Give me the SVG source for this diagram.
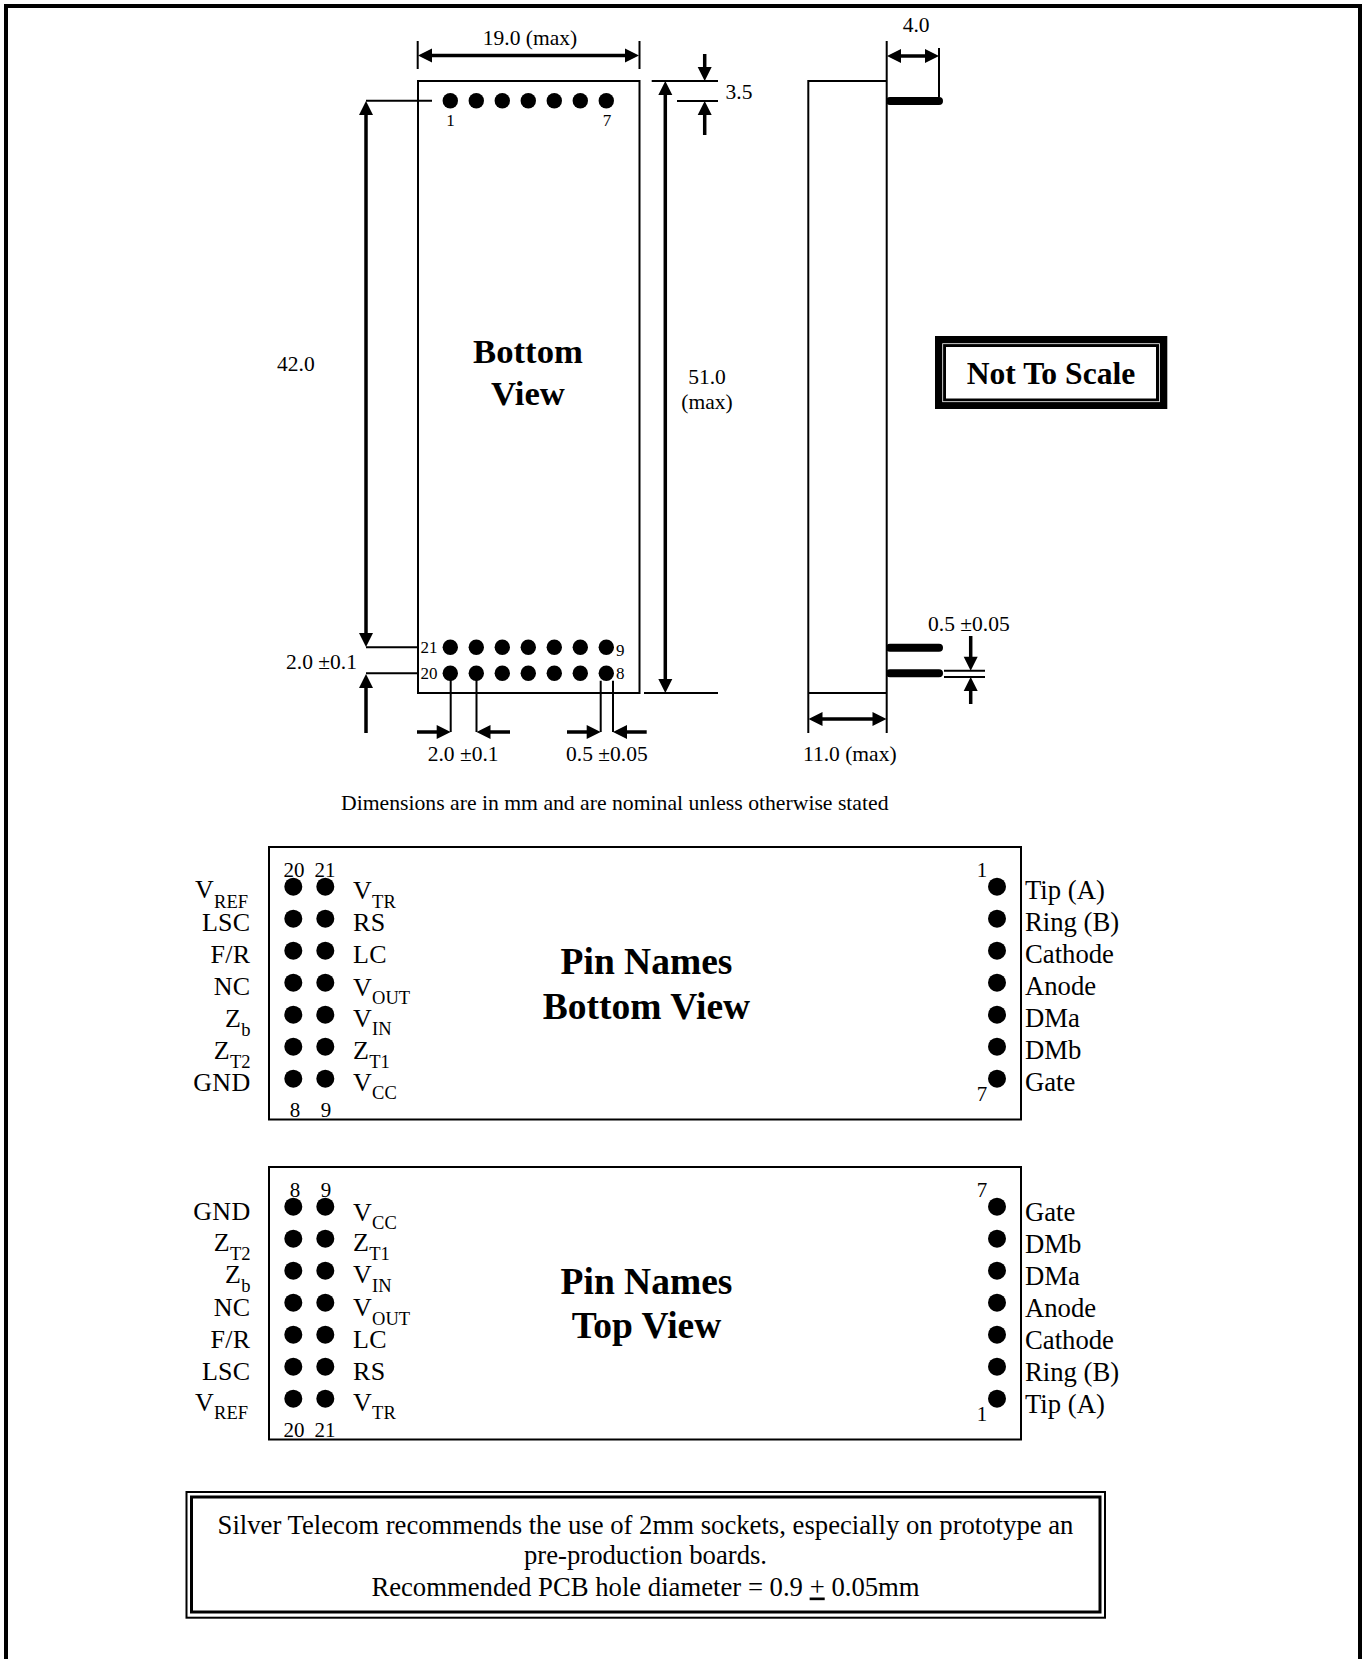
<svg xmlns="http://www.w3.org/2000/svg" width="1367" height="1659" viewBox="0 0 1367 1659">
<style>
text{font-family:"Liberation Serif","Times New Roman",serif;fill:#000}
.d{font-size:21.5px}
.s{font-size:17px}
.l{font-size:26px;letter-spacing:.3px}
.k{font-size:26.7px}
.n{font-size:21px}
.e{text-anchor:end}
.m{text-anchor:middle}
.b{font-weight:bold;text-anchor:middle}
.u{font-size:18.5px;letter-spacing:0}
.a{fill:none;stroke:#000;stroke-width:3.5}
.t{fill:none;stroke:#000;stroke-width:2}
.p{fill:none;stroke:#000;stroke-width:8;stroke-linecap:round}
.o{fill:none;stroke:#000;stroke-width:2}
.ar{marker-end:url(#h)}
.both{marker-start:url(#h);marker-end:url(#h)}
</style>
<defs>
<marker id="h" markerUnits="userSpaceOnUse" markerWidth="16" markerHeight="16" viewBox="-9 -8 16 16" refX="0" refY="0" orient="auto-start-reverse" overflow="visible"><path d="M-8,-7 L6,0 L-8,7z" fill="#000"/></marker>
<circle id="d" r="7.7" fill="#000"/>
<circle id="D" r="9" fill="#000"/>
</defs>
<rect width="1367" height="1659" fill="#fff"/>
<rect id="frame" x="6" y="6" width="1354" height="1660" fill="none" stroke="#000" stroke-width="4"/>

<g id="bottom-view">
<rect class="o" x="418" y="81" width="221.5" height="612"/>
<text class="b" style="font-size:34.7px" x="528" y="362.5">Bottom</text>
<text class="b" style="font-size:34.7px" x="528" y="404.5">View</text>
<g id="pins-top"><use href="#d" x="450.3" y="100.7"/><use href="#d" x="476.3" y="100.7"/><use href="#d" x="502.3" y="100.7"/><use href="#d" x="528.3" y="100.7"/><use href="#d" x="554.3" y="100.7"/><use href="#d" x="580.3" y="100.7"/><use href="#d" x="606.3" y="100.7"/></g>
<g id="pins-mid"><use href="#d" x="450.3" y="647.3"/><use href="#d" x="476.3" y="647.3"/><use href="#d" x="502.3" y="647.3"/><use href="#d" x="528.3" y="647.3"/><use href="#d" x="554.3" y="647.3"/><use href="#d" x="580.3" y="647.3"/><use href="#d" x="606.3" y="647.3"/></g>
<g id="pins-low"><use href="#d" x="450.3" y="673.3"/><use href="#d" x="476.3" y="673.3"/><use href="#d" x="502.3" y="673.3"/><use href="#d" x="528.3" y="673.3"/><use href="#d" x="554.3" y="673.3"/><use href="#d" x="580.3" y="673.3"/><use href="#d" x="606.3" y="673.3"/></g>
<text class="s m" x="450.5" y="126">1</text><text class="s m" x="607" y="126">7</text>
<text class="s" x="420.5" y="653">21</text><text class="s" x="420.5" y="678.5">20</text><text class="s" x="616" y="656">9</text><text class="s" x="616" y="678.5">8</text>
</g>

<g id="side-view">
<path class="t" d="M886.7,41V733M808.3,733V81H886.7M808.3,693H886.7"/>
<path class="p" d="M890,101H939M890,647.7H939M890,673.3H939"/>
</g>

<g id="connectors">
<path class="t" d="M417.7,41V69M639.5,41V69"/>
<line class="a both" x1="424" y1="55.5" x2="633" y2="55.5"/>
<path class="t" d="M432,100.7H366M417,647.3H366M417,673.3H366"/>
<line class="a both" x1="366" y1="107" x2="366" y2="641"/>
<line class="a ar" x1="366" y1="733" x2="366" y2="680"/>
<path class="t" d="M651.7,81H718M677,101H718M644,693H718"/>
<line class="a both" x1="665.3" y1="87" x2="665.3" y2="687"/>
<line class="a ar" x1="704.7" y1="54" x2="704.7" y2="75"/>
<line class="a ar" x1="704.7" y1="135" x2="704.7" y2="107"/>
<path class="t" d="M450.7,673V732M476.5,673V732M600.7,680.7V732M613,680.7V732"/>
<line class="a ar" x1="417" y1="732" x2="444.7" y2="732"/>
<line class="a ar" x1="510" y1="732" x2="482.5" y2="732"/>
<line class="a ar" x1="567" y1="732" x2="594.7" y2="732"/>
<line class="a ar" x1="646.7" y1="732" x2="619" y2="732"/>
<path class="t" d="M939,48V97"/>
<line class="a both" x1="893" y1="56" x2="933" y2="56"/>
<line class="a both" x1="814.5" y1="719" x2="880.5" y2="719"/>
<path class="t" d="M944,670.7H985M944,677H985"/>
<line class="a ar" x1="970.7" y1="636" x2="970.7" y2="664.7"/>
<line class="a ar" x1="970.7" y1="704" x2="970.7" y2="683"/>
</g>

<g id="dimensions">
<text class="d m" x="530" y="45">19.0 (max)</text>
<text class="d" x="725.5" y="99">3.5</text>
<text class="d" x="277" y="371">42.0</text>
<text class="d m" x="707" y="384">51.0</text>
<text class="d m" x="707" y="409">(max)</text>
<text class="d" x="286" y="669.3">2.0 ±0.1</text>
<text class="d" x="427.7" y="761">2.0 ±0.1</text>
<text class="d" x="566" y="761">0.5 ±0.05</text>
<text class="d" x="803" y="761">11.0 (max)</text>
<text class="d" x="928" y="631">0.5 ±0.05</text>
<text class="d" x="902.7" y="31.7">4.0</text>
<text style="font-size:21.7px" x="341" y="810">Dimensions are in mm and are nominal unless otherwise stated</text>
</g>

<g id="not-to-scale">
<rect x="935" y="336" width="232.3" height="73" fill="#000"/>
<rect x="942.7" y="343.7" width="216.7" height="58" fill="none" stroke="#fff" stroke-width=".8"/>
<rect x="946" y="347" width="210" height="51.5" fill="#fff"/>
<text class="b" style="font-size:31.6px" x="1051" y="384">Not To Scale</text>
</g>

<g id="pin-names-bottom">
<rect class="o" x="269" y="847" width="752" height="272.5"/>
<text class="b" style="font-size:37.5px" x="646.5" y="973.5">Pin Names</text>
<text class="b" style="font-size:37.5px" x="646.5" y="1018.5">Bottom View</text>
<g><use href="#D" x="293.3" y="886.7"/><use href="#D" x="325.3" y="886.7"/><use href="#D" x="997" y="886.7"/><use href="#D" x="293.3" y="918.7"/><use href="#D" x="325.3" y="918.7"/><use href="#D" x="997" y="918.7"/><use href="#D" x="293.3" y="950.7"/><use href="#D" x="325.3" y="950.7"/><use href="#D" x="997" y="950.7"/><use href="#D" x="293.3" y="982.7"/><use href="#D" x="325.3" y="982.7"/><use href="#D" x="997" y="982.7"/><use href="#D" x="293.3" y="1014.7"/><use href="#D" x="325.3" y="1014.7"/><use href="#D" x="997" y="1014.7"/><use href="#D" x="293.3" y="1046.7"/><use href="#D" x="325.3" y="1046.7"/><use href="#D" x="997" y="1046.7"/><use href="#D" x="293.3" y="1078.7"/><use href="#D" x="325.3" y="1078.7"/><use href="#D" x="997" y="1078.7"/></g>
<text class="n m" x="294" y="876.7">20</text><text class="n m" x="325" y="876.7">21</text><text class="n m" x="295" y="1116.7">8</text><text class="n m" x="326" y="1116.7">9</text>
<text class="n m" x="982" y="876.7">1</text><text class="n m" x="982" y="1100.7">7</text>
<text class="l e" x="248" y="898">V<tspan class="u" dy="10">REF</tspan></text>
<text class="l e" x="250.5" y="930.7">LSC</text>
<text class="l e" x="250.5" y="962.7">F/R</text>
<text class="l e" x="250.5" y="995">NC</text>
<text class="l e" x="250.5" y="1026.7">Z<tspan class="u" dy="9">b</tspan></text>
<text class="l e" x="250.5" y="1058.5">Z<tspan class="u" dy="9">T2</tspan></text>
<text class="l e" x="250.5" y="1090.7">GND</text>
<text class="l" x="353" y="898.5">V<tspan class="u" dy="9.5">TR</tspan></text>
<text class="l" x="353" y="930.7">RS</text>
<text class="l" x="353" y="962.7">LC</text>
<text class="l" x="353" y="995.5">V<tspan class="u" dy="8">OUT</tspan></text>
<text class="l" x="353" y="1027.2">V<tspan class="u" dy="8">IN</tspan></text>
<text class="l" x="353" y="1058.5">Z<tspan class="u" dy="9">T1</tspan></text>
<text class="l" x="353" y="1091.2">V<tspan class="u" dy="8">CC</tspan></text>
<text class="k" x="1025" y="899">Tip (A)</text>
<text class="k" x="1025" y="931">Ring (B)</text>
<text class="k" x="1025" y="963">Cathode</text>
<text class="k" x="1025" y="995">Anode</text>
<text class="k" x="1025" y="1027">DMa</text>
<text class="k" x="1025" y="1059">DMb</text>
<text class="k" x="1025" y="1091">Gate</text>
</g>

<g id="pin-names-top">
<rect class="o" x="269" y="1167" width="752" height="272.5"/>
<text class="b" style="font-size:37.5px" x="646.5" y="1293.5">Pin Names</text>
<text class="b" style="font-size:37.5px" x="646.5" y="1337.5">Top View</text>
<g><use href="#D" x="293.3" y="1206.7"/><use href="#D" x="325.3" y="1206.7"/><use href="#D" x="997" y="1206.7"/><use href="#D" x="293.3" y="1238.7"/><use href="#D" x="325.3" y="1238.7"/><use href="#D" x="997" y="1238.7"/><use href="#D" x="293.3" y="1270.7"/><use href="#D" x="325.3" y="1270.7"/><use href="#D" x="997" y="1270.7"/><use href="#D" x="293.3" y="1302.7"/><use href="#D" x="325.3" y="1302.7"/><use href="#D" x="997" y="1302.7"/><use href="#D" x="293.3" y="1334.7"/><use href="#D" x="325.3" y="1334.7"/><use href="#D" x="997" y="1334.7"/><use href="#D" x="293.3" y="1366.7"/><use href="#D" x="325.3" y="1366.7"/><use href="#D" x="997" y="1366.7"/><use href="#D" x="293.3" y="1398.7"/><use href="#D" x="325.3" y="1398.7"/><use href="#D" x="997" y="1398.7"/></g>
<text class="n m" x="295" y="1196.7">8</text><text class="n m" x="326" y="1196.7">9</text><text class="n m" x="294" y="1436.7">20</text><text class="n m" x="325" y="1436.7">21</text>
<text class="n m" x="982" y="1196.7">7</text><text class="n m" x="982" y="1420.7">1</text>
<text class="l e" x="250.5" y="1220">GND</text>
<text class="l e" x="250.5" y="1251">Z<tspan class="u" dy="9">T2</tspan></text>
<text class="l e" x="250.5" y="1283">Z<tspan class="u" dy="9">b</tspan></text>
<text class="l e" x="250.5" y="1315.5">NC</text>
<text class="l e" x="250.5" y="1348">F/R</text>
<text class="l e" x="250.5" y="1380">LSC</text>
<text class="l e" x="248" y="1411.2">V<tspan class="u" dy="8">REF</tspan></text>
<text class="l" x="353" y="1220.5">V<tspan class="u" dy="8">CC</tspan></text>
<text class="l" x="353" y="1251">Z<tspan class="u" dy="9">T1</tspan></text>
<text class="l" x="353" y="1283">V<tspan class="u" dy="9">IN</tspan></text>
<text class="l" x="353" y="1315.5">V<tspan class="u" dy="9">OUT</tspan></text>
<text class="l" x="353" y="1348">LC</text>
<text class="l" x="353" y="1380">RS</text>
<text class="l" x="353" y="1411.2">V<tspan class="u" dy="8">TR</tspan></text>
<text class="k" x="1025" y="1220.5">Gate</text>
<text class="k" x="1025" y="1252.5">DMb</text>
<text class="k" x="1025" y="1284.5">DMa</text>
<text class="k" x="1025" y="1316.5">Anode</text>
<text class="k" x="1025" y="1348.5">Cathode</text>
<text class="k" x="1025" y="1380.5">Ring (B)</text>
<text class="k" x="1025" y="1412.5">Tip (A)</text>
</g>

<g id="note">
<rect x="186.5" y="1492" width="918.5" height="125.7" fill="none" stroke="#000" stroke-width="2"/>
<rect x="191.5" y="1497" width="908.5" height="115" fill="none" stroke="#000" stroke-width="3"/>
<text class="k m" x="645.5" y="1533.5">Silver Telecom recommends the use of 2mm sockets, especially on prototype an</text>
<text class="k m" x="645.5" y="1563.5">pre-production boards.</text>
<text class="k m" x="645.5" y="1595.5">Recommended PCB hole diameter = 0.9 <tspan text-decoration="underline">+</tspan> 0.05mm</text>
</g>
</svg>
